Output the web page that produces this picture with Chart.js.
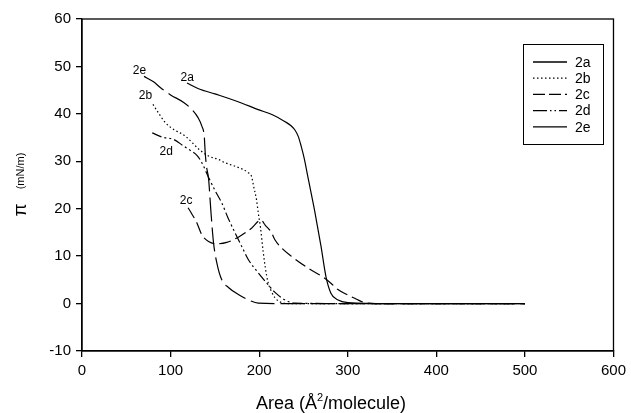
<!DOCTYPE html>
<html>
<head>
<meta charset="utf-8">
<script src="https://cdn.jsdelivr.net/npm/chart.js@4"></script>
<style>
html,body{margin:0;padding:0;background:#fff;}
canvas{display:block;}
</style>
</head>
<body>
<canvas id="c" width="631" height="413"></canvas>
<script>
// ---- data (Area in Å²/molecule, π in mN/m) ----
const seriesNames = ["2a", "2b", "2c", "2d", "2e"];

const a_x = [118.5,131.6,150,165,180,198.9,215,228.8,236,240,244,247.4,251,254.9,262.4,269.8,275.4,281,288.5,300,350,400,450,500];
const a_y = [46.5,45.3,44.2,43.3,42.3,40.9,39.8,38.4,37.5,36.7,35.3,33.2,30.5,26.8,19.8,12.1,5.7,2.2,0.8,0.2,0,0,0,0];

const b_x = [80.1,87,94.3,103.6,116.7,131.6,142.9,154,161.5,175,187.7,191.4,194,197,199,201.5,204.5,207,210,214,217.6,223,232,300,400,500];
const b_y = [42.0,40.0,38.1,36.7,35.3,32.6,31.1,30.4,29.7,28.8,27.6,26.8,24.5,21.9,19.1,16.0,11.0,7.5,4.5,2.5,1.3,0.4,0,0,0,0];

const c_x = [119.7,124,129.7,135.3,142.9,152.2,163.4,176.5,191.4,201.9,207,213.8,217.6,226,236.2,254.9,273.6,281,288.5,300,310,318.4,330,400,500];
const c_y = [20.2,18.9,17.0,14.5,13.1,12.6,12.9,14.0,15.9,17.6,16.5,15.0,13.5,11.6,10.0,7.5,5.4,4.3,3.0,1.8,0.9,0.25,0,0,0];

const d_x = [79.3,90.5,103.6,114.8,122.3,130,135.3,142.9,150,157.8,165,172.8,180.2,187.7,198.9,206.4,217.6,228.8,240,300,400,500];
const d_y = [36.0,35.1,34.6,33.2,32.3,31.2,29.7,26.6,23.9,21.2,18.0,14.9,12.1,9.3,6.5,4.8,2.4,0.8,0.1,0,0,0];

const e_x = [70,81.2,88.7,100,114.8,124.1,131,135.3,138,139.1,140.5,142.9,145.5,148.5,152.2,157.8,165.3,176.5,190,198.9,230,300,400,500];
const e_y = [47.9,46.7,45.5,44.0,42.4,40.9,39.2,37.4,35.3,31.8,29.0,26.3,19.5,12.8,8.6,5.0,3.4,1.9,0.6,0.1,0,0,0,0];

// curve labels placed near each isotherm (data units)
const curveLabelX = [118.7, 71.6, 117.5, 95.1, 64.9];
const curveLabelY = [47.6, 43.8, 21.6, 32.0, 49.2];

const xTicksMin = 0, xTicksMax = 600, xStep = 100;
const yTicksMin = -10, yTicksMax = 60, yStep = 10;

// ---- styles ----
const dashes = [[], [1.5, 2.5], [12, 5], [10, 3, 2, 3, 2, 3], [24, 6]];
const legendDashes = [[], [1.5, 2.5], [12, 4], [14, 3, 1.5, 3, 1.5, 3], []];

function pts(xs, ys) { return xs.map((x, i) => ({x: x, y: ys[i]})); }
const allX = [a_x, b_x, c_x, d_x, e_x];
const allY = [a_y, b_y, c_y, d_y, e_y];

const datasets = seriesNames.map((n, i) => ({
  label: n,
  data: pts(allX[i], allY[i]),
  borderColor: '#000',
  borderWidth: 1.2,
  borderDash: dashes[i],
  pointRadius: 0,
  fill: false,
  cubicInterpolationMode: 'monotone'
}));

const FONT = '"Liberation Sans", Arial, sans-serif';

const decor = {
  id: 'decor',
  afterDraw(chart) {
    const ctx = chart.ctx;
    const ca = chart.chartArea;
    const xs = chart.scales.x, ys = chart.scales.y;
    ctx.save();
    // frame
    ctx.strokeStyle = '#000';
    ctx.lineWidth = 1.3;
    ctx.setLineDash([]);
    ctx.strokeRect(ca.left, ca.top, ca.right - ca.left, ca.bottom - ca.top);

    // curve labels
    ctx.fillStyle = '#000';
    ctx.font = '12px ' + FONT;
    ctx.textAlign = 'center';
    ctx.textBaseline = 'middle';
    seriesNames.forEach((n, i) => {
      ctx.fillText(n, xs.getPixelForValue(curveLabelX[i]), ys.getPixelForValue(curveLabelY[i]));
    });

    // legend
    const lx = 523, ly = 44, lw = 80, lh = 100;
    ctx.fillStyle = '#fff';
    ctx.fillRect(lx, ly, lw, lh);
    ctx.strokeStyle = '#000';
    ctx.lineWidth = 1;
    ctx.strokeRect(lx + 0.5, ly + 0.5, lw, lh);
    ctx.font = '14px ' + FONT;
    ctx.textAlign = 'left';
    ctx.textBaseline = 'middle';
    seriesNames.forEach((n, i) => {
      const yy = 62 + i * 16.2;
      ctx.beginPath();
      ctx.setLineDash(legendDashes[i]);
      ctx.lineWidth = 1.3;
      ctx.moveTo(533, yy);
      ctx.lineTo(567, yy);
      ctx.stroke();
      ctx.setLineDash([]);
      ctx.fillStyle = '#000';
      ctx.fillText(n, 575, yy + 1);
    });

    // x axis title with superscript
    const big = '18px ' + FONT, small = '11px ' + FONT;
    const p1 = 'Area (Å', p2 = '2', p3 = '/molecule)';
    ctx.font = big; const w1 = ctx.measureText(p1).width; const w3 = ctx.measureText(p3).width;
    ctx.font = small; const w2 = ctx.measureText(p2).width;
    const total = w1 + w2 + w3;
    let x0 = 331 - total / 2;
    const base = 409;
    ctx.textBaseline = 'alphabetic';
    ctx.textAlign = 'left';
    ctx.font = big; ctx.fillText(p1, x0, base);
    ctx.font = small; ctx.fillText(p2, x0 + w1, base - 8);
    ctx.font = big; ctx.fillText(p3, x0 + w1 + w2, base);

    // y axis title (rotated)
    ctx.save();
    ctx.translate(21, 0);
    ctx.rotate(-Math.PI / 2);
    ctx.textBaseline = 'middle';
    ctx.textAlign = 'center';
    ctx.font = '19px ' + FONT;
    ctx.fillText('π', -210, 0);
    ctx.font = '11px ' + FONT;
    ctx.fillText('(mN/m)', -171, 0);
    ctx.restore();

    ctx.restore();
  }
};

new Chart(document.getElementById('c'), {
  type: 'line',
  data: { datasets: datasets },
  options: {
    responsive: false,
    animation: false,
    layout: { padding: { left: 0, top: 19, right: 13, bottom: 0 } },
    plugins: { legend: { display: false }, tooltip: { enabled: false } },
    scales: {
      x: {
        type: 'linear',
        min: xTicksMin, max: xTicksMax,
        ticks: { stepSize: xStep, color: '#000', font: { family: FONT, size: 15 }, padding: 5, maxRotation: 0 },
        grid: { display: true, drawOnChartArea: false, drawTicks: true, tickLength: 6, color: '#000', lineWidth: 1.3 },
        border: { display: true, color: '#000', width: 1.3 },
        afterFit(s) { s.height = 62; }
      },
      y: {
        type: 'linear',
        min: yTicksMin, max: yTicksMax,
        ticks: { stepSize: yStep, color: '#000', font: { family: FONT, size: 15 }, padding: 5 },
        grid: { display: true, drawOnChartArea: false, drawTicks: true, tickLength: 6, color: '#000', lineWidth: 1.3 },
        border: { display: true, color: '#000', width: 1.3 },
        afterFit(s) { s.width = 82; }
      }
    }
  },
  plugins: [decor]
});
</script>
</body>
</html>
